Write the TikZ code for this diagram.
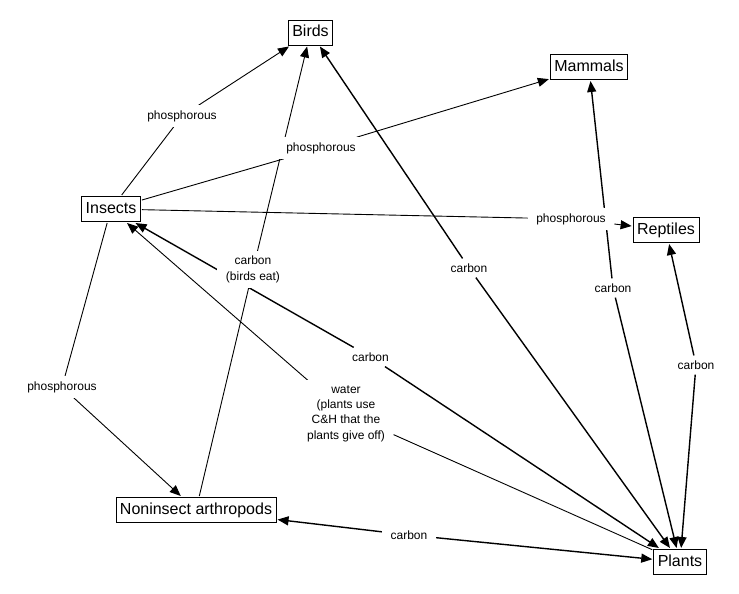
\documentclass[tikz,border=0pt]{standalone}
\usepackage{fontspec}
\setmainfont{Liberation Sans}
\usetikzlibrary{arrows.meta,backgrounds}
\begin{document}
\begin{tikzpicture}[x=1pt,y=-1pt,
  concept/.style={draw,line width=0.8pt,inner xsep=4pt,inner ysep=5pt,
    text height=11.6pt,text depth=3.4pt,outer sep=1.5pt,
    font=\fontsize{16}{19}\selectfont},
  linklabel/.style={fill=white,inner xsep=8.5pt,inner ysep=5pt,
    font=\fontsize{12}{15.3}\selectfont,align=center},
  thinlink/.style={line width=0.9pt},
  thicklink/.style={line width=1.4pt},
  oneway/.style={-{Triangle[length=11pt,width=9pt]}},
  backway/.style={{Triangle[length=11pt,width=9pt]}-}
]
\useasboundingbox (0,0) rectangle (739,594);
% concepts
\node[concept] (birds) at (310.5,32.5) {Birds};
\node[concept] (mammals) at (589,67) {Mammals};
\node[concept] (insects) at (111,209) {Insects};
\node[concept] (reptiles) at (666,230) {Reptiles};
\node[concept] (nonins) at (196,510) {Noninsect arthropods};
\node[concept] (plants) at (680,562) {Plants};
% linking phrases
\node[linklabel] (l1) at (182,116) {phosphorous};
\node[linklabel] (l2) at (321,148) {phosphorous};
\node[linklabel] (l3) at (571,219) {phosphorous};
\node[linklabel] (l4) at (62,387) {phosphorous};
\node[linklabel] (l5) at (253,269.5) {carbon\\(birds eat)};
\node[linklabel] (l6) at (469,268) {carbon};
\node[linklabel] (l7) at (613,288) {carbon};
\node[linklabel] (l8) at (696,365) {carbon};
\node[linklabel] (l9) at (370.5,357) {carbon};
\node[linklabel] (l10) at (346,413.5) {water\\(plants use\\C\&H that the\\plants give off)};
\node[linklabel] (l11) at (409,535) {carbon};
\begin{pgfonlayer}{background}
\fill[white] (0,0) rectangle (739,594);
% phosphorous from insects
\draw[thinlink] (insects) -- (l1);
\draw[thinlink,oneway] (l1) -- (birds);
\draw[thinlink] (insects) -- (l2);
\draw[thinlink,oneway] (l2) -- (mammals);
\draw[thinlink] (insects) -- (l3);
\draw[thinlink,oneway] (l3) -- (reptiles);
\draw[thinlink] (insects) -- (l4);
\draw[thinlink,oneway] (l4) -- (nonins);
% carbon (birds eat)
\draw[thinlink] (nonins) -- (l5);
\draw[thinlink,oneway] (l5) -- (birds);
% carbon with plants
\draw[thicklink,backway] (birds) -- (l6);
\draw[thicklink,oneway] (l6) -- (plants);
\draw[thicklink,backway] (mammals) -- (l7);
\draw[thicklink,oneway] (l7) -- (plants);
\draw[thicklink,backway] (reptiles) -- (l8);
\draw[thicklink,oneway] (l8) -- (plants);
\draw[thicklink,backway] (insects) -- (l9);
\draw[thicklink,oneway] (l9) -- (plants);
\draw[thicklink,backway] (nonins) -- (l11);
\draw[thicklink,oneway] (l11) -- (plants);
% water
\draw[thinlink] (plants) -- (l10);
\draw[thinlink,oneway] (l10) -- (insects);
\end{pgfonlayer}
\end{tikzpicture}
\end{document}
